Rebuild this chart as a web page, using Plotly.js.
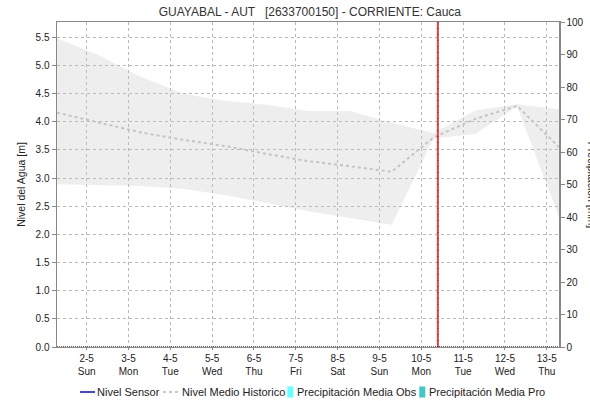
<!DOCTYPE html>
<html>
<head>
<meta charset="utf-8">
<script src="https://cdn.plot.ly/plotly-3.0.1.min.js"></script>
<style>html,body{margin:0;padding:0;background:#fff;}#chart{width:590px;height:401px;}</style>
</head>
<body>
<div id="chart"></div>
<script>
// ---- data ----
const times = ['2021-05-01 07:00','2021-05-02 07:00','2021-05-03 07:00','2021-05-04 07:00','2021-05-05 07:00','2021-05-06 07:00','2021-05-07 07:00','2021-05-08 07:00','2021-05-09 07:00','2021-05-10 07:00','2021-05-11 07:00','2021-05-12 07:00','2021-05-13 07:00'];
const medianLevel = [4.16, 3.99, 3.81, 3.68, 3.57, 3.43, 3.30, 3.21, 3.11, 3.72, 4.05, 4.28, 3.55];
const upperLevel  = [5.48, 5.18, 4.80, 4.50, 4.37, 4.30, 4.19, 4.19, 3.98, 3.80, 4.20, 4.31, 4.22];
const lowerLevel  = [2.89, 2.88, 2.86, 2.81, 2.70, 2.56, 2.41, 2.29, 2.17, 3.70, 3.78, 4.27, 2.31];
const sensorTimes = [];
const sensorLevel = [];
const precipObs = [];
const precipPro = [];
const tickDates = ['2021-05-02','2021-05-03','2021-05-04','2021-05-05','2021-05-06','2021-05-07','2021-05-08','2021-05-09','2021-05-10','2021-05-11','2021-05-12','2021-05-13'];
const tickDay = ['2-5','3-5','4-5','5-5','6-5','7-5','8-5','9-5','10-5','11-5','12-5','13-5'];
const tickWeekday = ['Sun','Mon','Tue','Wed','Thu','Fri','Sat','Sun','Mon','Tue','Wed','Thu'];
const currentTime = '2021-05-10 09:30';
const xRange = ['2021-05-01 07:00','2021-05-13 07:00'];

// ---- layout geometry helpers (pixels -> paper) ----
const L = 57, R = 30.7, T = 22, B = 54, W = 590, H = 401;
const pw = W - L - R, ph = H - T - B;
const px = x => (x - L) / pw;
const py = y => (H - B - y) / ph;

const FONT = 'Liberation Sans, Arial, sans-serif';
const BAND = 'rgba(200,200,200,0.3)';

const traces = [
  {x: times, y: lowerLevel, type: 'scatter', mode: 'lines', line: {width: 0, color: BAND}, showlegend: false, hoverinfo: 'skip'},
  {x: times, y: upperLevel, type: 'scatter', mode: 'lines', fill: 'tonexty', fillcolor: BAND, line: {width: 0, color: BAND}, showlegend: false, hoverinfo: 'skip'},
  {x: times, y: medianLevel, type: 'scatter', mode: 'lines', name: 'Nivel Medio Historico', line: {color: '#c4c4c4', width: 2, dash: '3px,3px'}, showlegend: false},
  {x: sensorTimes, y: sensorLevel, type: 'scatter', mode: 'lines', name: 'Nivel Sensor', line: {color: '#0000ff', width: 1}, showlegend: false},
  {x: sensorTimes, y: precipObs, type: 'bar', name: 'Precipitación Media Obs', marker: {color: '#66ffff'}, yaxis: 'y2', showlegend: false},
  {x: sensorTimes, y: precipPro, type: 'bar', name: 'Precipitación Media Pro', marker: {color: '#40c8c8'}, yaxis: 'y2', showlegend: false}
];

const ly = py(392);
const legendShapes = [
  {type: 'line', xref: 'paper', yref: 'paper', x0: px(80), x1: px(95), y0: ly, y1: ly, line: {color: '#0000ff', width: 1.5}},
  {type: 'line', xref: 'paper', yref: 'paper', x0: px(163), x1: px(179), y0: ly, y1: ly, line: {color: '#c8c8c8', width: 2, dash: '3px,3px'}},
  {type: 'rect', xref: 'paper', yref: 'paper', x0: px(287.5), x1: px(293.5), y0: py(397.5), y1: py(386.5), fillcolor: '#66ffff', line: {width: 0}},
  {type: 'rect', xref: 'paper', yref: 'paper', x0: px(419.5), x1: px(425.5), y0: py(397.5), y1: py(386.5), fillcolor: '#40c8c8', line: {width: 0}}
];
const legendAnn = [
  ['Nivel Sensor', 96],
  ['Nivel Medio Historico', 181],
  ['Precipitación Media Obs', 296.5],
  ['Precipitación Media Pro', 428]
].map(([t, x]) => ({text: t, xref: 'paper', yref: 'paper', x: px(x), y: ly, xanchor: 'left', yanchor: 'middle', showarrow: false, borderpad: 0, font: {family: FONT, size: 11, color: '#222'}}));

const layout = {
  width: W, height: H,
  margin: {l: L, r: R, t: T, b: B, pad: 0},
  paper_bgcolor: '#ffffff', plot_bgcolor: '#ffffff',
  showlegend: false,
  title: {text: 'GUAYABAL - AUT &nbsp;&nbsp;[2633700150] - CORRIENTE: Cauca', font: {family: FONT, size: 12, color: '#333'}, x: px(310), xanchor: 'center', y: 1 - 12/H, yanchor: 'middle', xref: 'paper'},
  xaxis: {
    type: 'date', range: xRange, autorange: false,
    tickmode: 'array', tickvals: tickDates,
    ticktext: tickDay.map((d, i) => d + '<br>' + tickWeekday[i]),
    showgrid: true, gridcolor: '#b8b8b8', griddash: 'dot', gridwidth: 1,
    showline: true, linecolor: '#888', linewidth: 1, mirror: true,
    ticks: 'outside', ticklen: 2, tickcolor: '#888',
    tickfont: {family: FONT, size: 10, color: '#222'},
    zeroline: false
  },
  yaxis: {
    range: [0, 5.77], autorange: false,
    tick0: 0, dtick: 0.5, tickformat: '.1f',
    showgrid: true, gridcolor: '#b8b8b8', griddash: 'dot', gridwidth: 1,
    showline: true, linecolor: '#888', linewidth: 1.5,
    ticks: 'outside', ticklen: 4, tickcolor: '#888',
    tickfont: {family: FONT, size: 10, color: '#222'},
    zeroline: false,
    title: {text: 'Nivel del Agua [m]', font: {family: FONT, size: 10.5, color: '#222'}, standoff: 8}
  },
  yaxis2: {
    overlaying: 'y', side: 'right', range: [0, 100], autorange: false,
    tick0: 0, dtick: 10, showgrid: false,
    showline: true, linecolor: '#888', linewidth: 1.5,
    ticks: 'outside', ticklen: 4, tickcolor: '#888',
    tickfont: {family: FONT, size: 10, color: '#222'},
    zeroline: false
  },
  shapes: [
    {type: 'line', xref: 'paper', yref: 'y', x0: 0, x1: 1, y0: 0, y1: 0, line: {color: '#333', width: 1.5, dash: '1px,1px'}},
    {type: 'line', xref: 'x', yref: 'paper', x0: currentTime, x1: currentTime, y0: 0, y1: 1, line: {color: '#e84040', width: 2}},
    {type: 'line', xref: 'x', yref: 'paper', x0: currentTime, x1: currentTime, y0: 0, y1: 1, line: {color: '#7a2020', width: 1, dash: '1px,5px'}}
  ].concat(legendShapes),
  annotations: legendAnn.concat([
    {text: 'Precipitación [mm]', textangle: 90, xref: 'paper', yref: 'paper', x: px(593), y: 0.5, xanchor: 'center', yanchor: 'middle', showarrow: false, font: {family: FONT, size: 10.5, color: '#222'}}
  ])
};

Plotly.newPlot('chart', traces, layout, {staticPlot: true, displayModeBar: false});
</script>
</body>
</html>
